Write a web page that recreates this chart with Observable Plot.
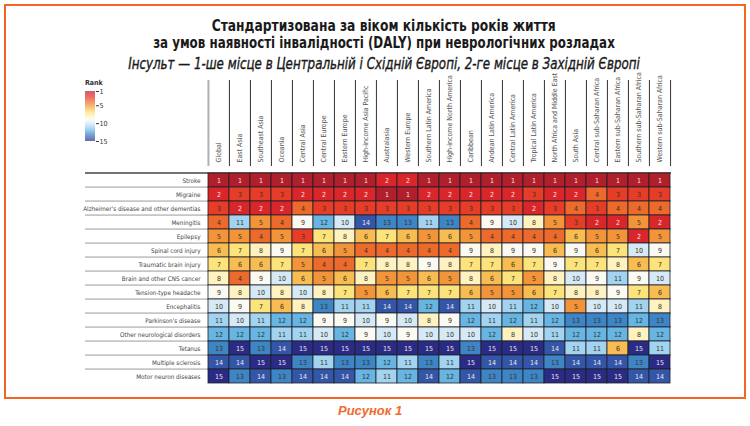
<!DOCTYPE html>
<html>
<head>
<meta charset="utf-8">
<script src="https://cdn.jsdelivr.net/npm/d3@7"></script>
<script src="https://cdn.jsdelivr.net/npm/@observablehq/plot@0.6"></script>
<style>
  html, body { margin: 0; padding: 0; background: #fff; }
  body { width: 750px; height: 426px; position: relative; overflow: hidden; }
  .narrow { font-family: "Liberation Sans Narrow", "DejaVu Sans Condensed", "Liberation Sans", sans-serif; }
  #frame { position: absolute; left: 4px; top: 4px; width: 738px; height: 391px; border: 2px solid #f26522; z-index: 5; pointer-events: none; }
  #t1, #t2, #sub { position: absolute; left: 16px; width: 734px; text-align: center; color: #1a1a1a; white-space: nowrap; transform-origin: 375px 50%; }
  #t1 { top: 17px; font-size: 15px; font-weight: bold; transform: scaleX(0.91); }
  #t2 { top: 34px; font-size: 15px; font-weight: bold; transform: scaleX(0.88); }
  #sub { top: 55px; font-size: 15px; font-style: italic; transform: scaleX(0.88); color: #1a1a1a; -webkit-text-stroke: 0.35px #1a1a1a; }
  #rank { position: absolute; left: 85px; top: 79px; font-size: 7px; font-weight: bold; color: #333; }
  #legend { position: absolute; left: 75px; top: 78px; }
  #chart { position: absolute; left: 0; top: 0; }
  #caption { position: absolute; left: 338px; top: 403px; font-family: "Liberation Sans", Arial, sans-serif; font-size: 13px; font-weight: bold; font-style: italic; color: #f26a2d; }
  #chart g[aria-label^="x-axis"], #chart g[aria-label^="x-axis"] text { font-size: 7px; fill: #555; color: #555; }
  #chart g[aria-label^="y-axis"], #chart g[aria-label^="y-axis"] text { font-size: 6.3px; fill: #444; color: #444; }
</style>
</head>
<body>
<div id="t1" class="narrow">Стандартизована за віком кількість років життя</div>
<div id="t2" class="narrow">за умов наявності інвалідності (DALY) при неврологічних розладах</div>
<div id="sub" class="narrow">Інсульт — 1-ше місце в Центральній і Східній Європі, 2-ге місце в Західній Європі</div>
<div id="chart"></div>
<div id="legend"></div>
<div id="rank" class="narrow">Rank</div>
<div id="frame"></div>
<div id="caption">Рисунок 1</div>
<script>
const regions = ["Global", "East Asia", "Southeast Asia", "Oceania", "Central Asia", "Central Europe",
  "Eastern Europe", "High-income Asia Pacific", "Australasia", "Western Europe", "Southern Latin America",
  "High-income North America", "Caribbean", "Andean Latin America", "Central Latin America",
  "Tropical Latin America", "North Africa and Middle East", "South Asia", "Central sub-Saharan Africa",
  "Eastern sub-Saharan Africa", "Southern sub-Saharan Africa", "Western sub-Saharan Africa"];

const disorders = ["Stroke", "Migraine", "Alzheimer's disease and other dementias", "Meningitis", "Epilepsy",
  "Spinal cord injury", "Traumatic brain injury", "Brain and other CNS cancer", "Tension-type headache",
  "Encephalitis", "Parkinson's disease", "Other neurological disorders", "Tetanus", "Multiple sclerosis",
  "Motor neuron diseases"];

// ranks: one row per disorder, one value per region
const ranks = [
  [1, 1, 1, 1, 1, 1, 1, 1, 2, 2, 1, 1, 1, 1, 1, 1, 1, 1, 1, 1, 1, 1],
  [2, 3, 3, 3, 2, 2, 2, 2, 1, 1, 2, 2, 2, 2, 2, 3, 2, 2, 4, 3, 3, 3],
  [3, 2, 2, 2, 4, 3, 3, 3, 3, 3, 3, 3, 3, 3, 3, 2, 3, 4, 3, 4, 4, 4],
  [4, 11, 5, 4, 9, 12, 10, 14, 13, 13, 11, 13, 4, 9, 10, 8, 5, 3, 2, 2, 5, 2],
  [5, 5, 4, 5, 3, 7, 8, 6, 7, 6, 5, 6, 5, 4, 4, 4, 4, 6, 5, 5, 2, 5],
  [6, 7, 8, 9, 7, 6, 5, 4, 4, 4, 4, 4, 9, 8, 9, 9, 6, 9, 6, 7, 10, 9],
  [7, 6, 6, 7, 5, 4, 4, 7, 8, 8, 9, 8, 7, 7, 6, 7, 9, 7, 7, 8, 6, 7],
  [8, 4, 9, 10, 6, 5, 6, 8, 5, 5, 6, 5, 8, 6, 7, 5, 8, 10, 9, 11, 9, 10],
  [9, 8, 10, 8, 10, 8, 7, 5, 6, 7, 7, 7, 6, 5, 5, 6, 7, 8, 8, 9, 7, 6],
  [10, 9, 7, 6, 8, 13, 11, 11, 14, 14, 12, 14, 11, 10, 11, 12, 10, 5, 10, 10, 11, 8],
  [11, 10, 11, 12, 12, 9, 9, 10, 9, 10, 8, 9, 12, 11, 12, 11, 12, 13, 13, 13, 12, 13],
  [12, 12, 12, 11, 11, 10, 12, 9, 10, 9, 10, 10, 10, 12, 8, 10, 11, 12, 12, 12, 8, 12],
  [13, 15, 13, 14, 15, 15, 15, 15, 15, 15, 15, 15, 13, 15, 15, 15, 14, 11, 11, 6, 15, 11],
  [14, 14, 15, 15, 13, 11, 13, 13, 12, 11, 13, 11, 15, 14, 14, 14, 13, 14, 14, 14, 13, 15],
  [15, 13, 14, 13, 14, 14, 14, 12, 11, 12, 14, 12, 14, 13, 13, 13, 15, 15, 15, 15, 14, 14]
];

const rankLevels = [1, 2, 3, 4, 5, 6, 7, 8, 9, 10, 11, 12, 13, 14, 15];
const legendTicks = [1, 5, 10, 15];

const palette = ["#b01f2c", "#d8262a", "#e63d29", "#eb6a2c", "#f2943a", "#f8bd52", "#fde37c", "#fdf2c0",
  "#fafaf2", "#d5e9f7", "#a2d3f0", "#66b5e3", "#3e85c6", "#3456a8", "#2a2b84"];

const colorScale = { type: "linear", domain: rankLevels, range: palette, interpolate: "rgb" };

const cells = disorders.flatMap((d, i) => regions.map((r, j) => ({ disorder: d, region: r, rank: ranks[i][j] })));
const lightText = cells.filter(c => c.rank <= 2 || c.rank >= 14);
const darkText = cells.filter(c => c.rank > 2 && c.rank < 14);

const W = 750, H = 400, mL = 206, mR = 79, mT = 166, mB = 11;
const bw = (W - mL - mR) / regions.length;
const bh = (H - mT - mB) / disorders.length;
const fam = '"Liberation Sans Narrow", "DejaVu Sans Condensed", "Liberation Sans", sans-serif';

const chart = Plot.plot({
  width: W, height: H,
  marginLeft: mL, marginRight: mR, marginTop: mT, marginBottom: mB,
  style: { background: "transparent", fontFamily: fam, fontSize: "7px", color: "#444" },
  x: { domain: regions, axis: "top", tickRotate: -90, tickSize: 0, tickPadding: 4, label: null, padding: 0 },
  y: { domain: disorders, tickSize: 0, tickPadding: 6, label: null, padding: 0 },
  color: colorScale,
  marks: [
    Plot.ruleY(disorders.slice(1), { y: d => d, dy: -bh / 2, insetLeft: -(mL - 85), stroke: "#9a9a9a", strokeWidth: 1 }),
    Plot.ruleY(disorders.slice(0, 1), { y: d => d, dy: -bh / 2, insetLeft: -(mL - 85), stroke: "#444", strokeWidth: 1.4 }),
    Plot.ruleX(regions.slice(0, 1), { x: d => d, dx: -bw / 2, insetTop: -(mT - 80), insetBottom: H - mT - mB, stroke: "#b0b0b8", strokeWidth: 2 }),
    Plot.ruleX(regions.slice(1), { x: d => d, dx: -bw / 2, insetTop: -(mT - 80), insetBottom: H - mT - mB, stroke: "#333", strokeWidth: 1 }),
    Plot.ruleX(regions.slice(-1), { x: d => d, dx: bw / 2, insetTop: -(mT - 80), insetBottom: H - mT - mB, stroke: "#333", strokeWidth: 1 }),
    Plot.cell(cells, { x: "region", y: "disorder", fill: "rank", stroke: "#1e1e2a", strokeWidth: 0.8 }),
    Plot.text(darkText, { x: "region", y: "disorder", text: "rank", fill: "#3a3020", fontSize: 7, fontFamily: fam }),
    Plot.text(lightText, { x: "region", y: "disorder", text: "rank", fill: "#f3e6e6", fontSize: 7, fontFamily: fam })
  ]
});
document.getElementById("chart").appendChild(chart);

const legendSteps = d3.range(1, 15, 0.1);
const legend = Plot.plot({
  width: 45, height: 68,
  marginLeft: 10, marginRight: 25, marginTop: 13, marginBottom: 5,
  style: { background: "transparent", fontFamily: fam, fontSize: "7px", color: "#333" },
  x: { domain: [0, 1], axis: null },
  y: { domain: [1, 15], reverse: true, axis: "right", ticks: legendTicks, tickSize: 3, tickPadding: 1, label: null },
  color: colorScale,
  marks: [
    Plot.rect(legendSteps, { x1: 0, x2: 1, y1: d => d, y2: d => Math.min(d + 0.1, 15), fill: d => d })
  ]
});
document.getElementById("legend").appendChild(legend);
</script>
</body>
</html>
